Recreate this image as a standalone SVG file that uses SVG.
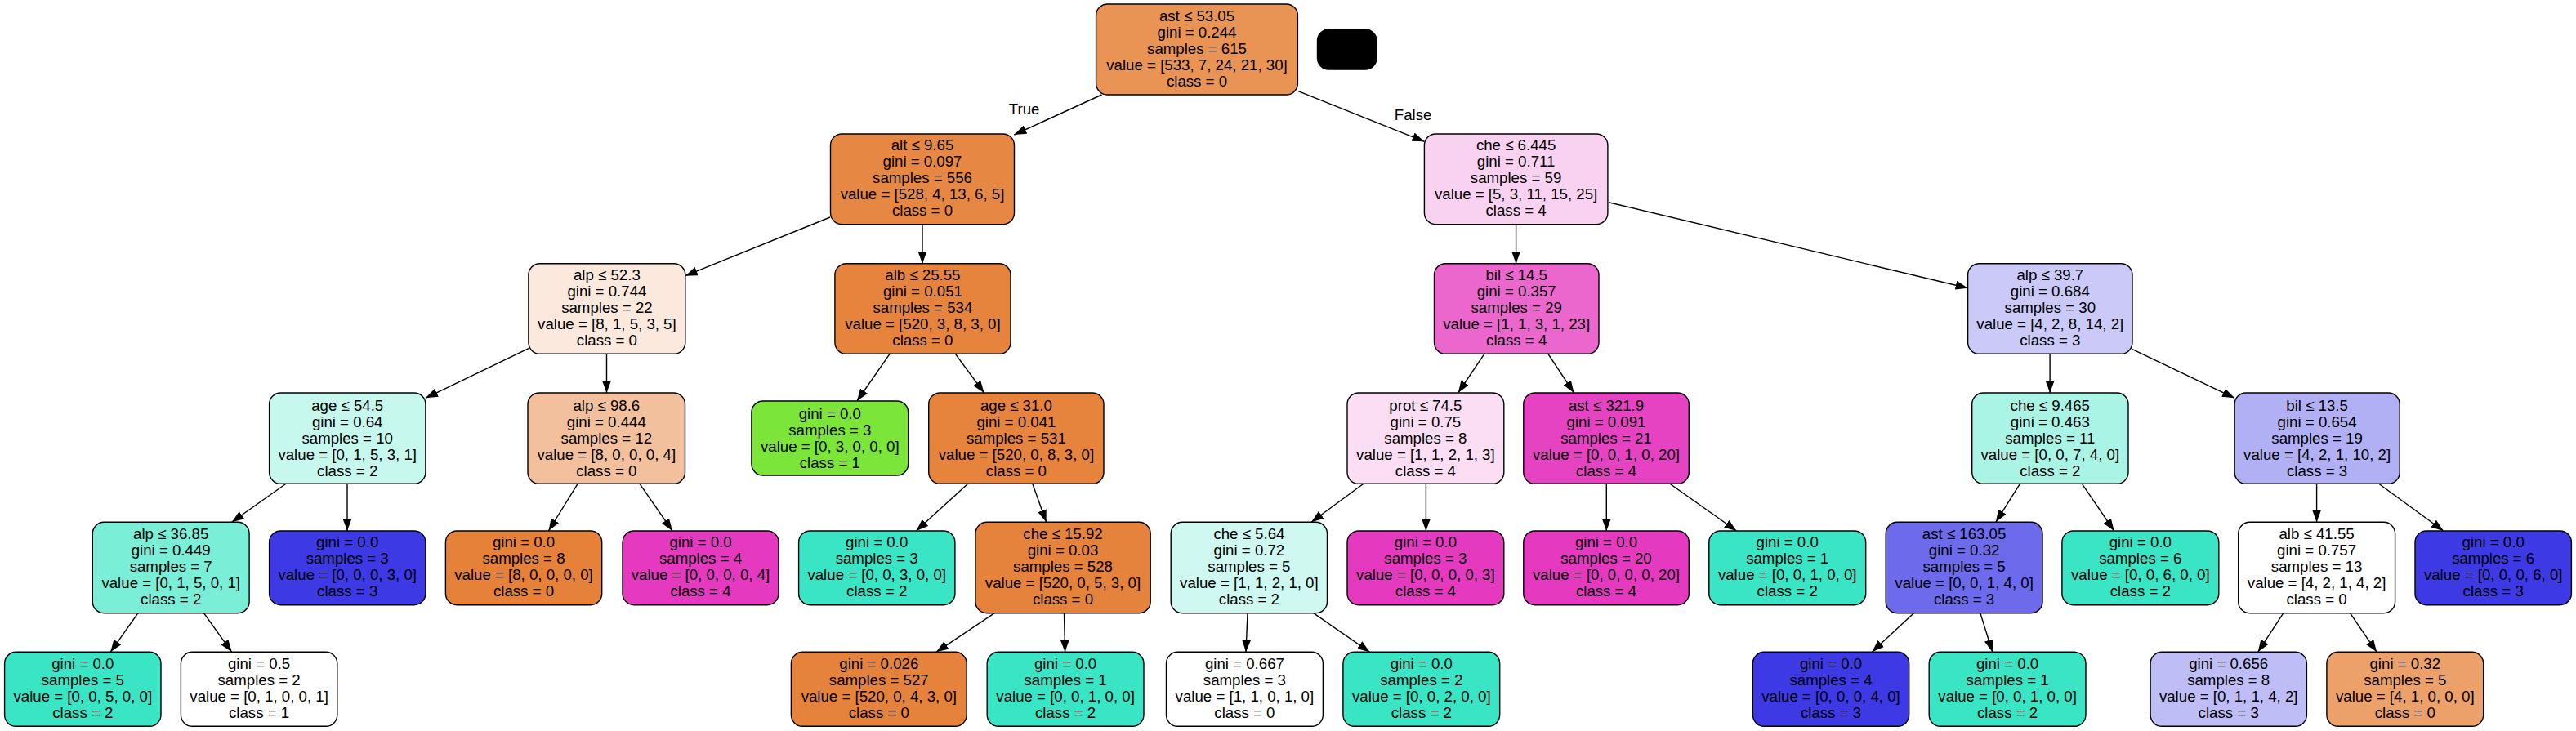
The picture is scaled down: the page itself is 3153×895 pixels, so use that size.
<svg xmlns="http://www.w3.org/2000/svg" width="3153" height="895" viewBox="0 0 3153 895">
<style>
.node rect{stroke:#000;stroke-width:1.4}
text{font-family:"Liberation Sans",Arial,Helvetica,sans-serif;font-size:18.67px;text-anchor:middle;fill:#000}
#edges line{stroke:#000;stroke-width:1.4;marker-end:url(#arr)}
</style>
<defs>
<marker id="arr" markerUnits="userSpaceOnUse" markerWidth="15" markerHeight="11" viewBox="0 0 15 11" refX="15" refY="5.5" orient="auto">
<path d="M0,0 L15,5.5 L0,11 z" fill="#000"/>
</marker>
</defs>
<rect width="3153" height="895" fill="#fff"/>
<g id="edges">
<line x1="1348.5" y1="116" x2="1241.3" y2="165"/>
<line x1="1589" y1="111.7" x2="1743.4" y2="173.3"/>
<line x1="1016" y1="266" x2="838.8" y2="337.7"/>
<line x1="1129" y1="274.7" x2="1129" y2="322.7"/>
<line x1="1855.6" y1="274.7" x2="1855.6" y2="322.7"/>
<line x1="1969" y1="247.7" x2="2408.6" y2="352.7"/>
<line x1="646.9" y1="426.7" x2="520.9" y2="487.3"/>
<line x1="742.5" y1="433.3" x2="742.5" y2="481"/>
<line x1="1089" y1="433.3" x2="1049" y2="491"/>
<line x1="1169.4" y1="433.3" x2="1204.6" y2="481"/>
<line x1="1816.8" y1="433.3" x2="1784.7" y2="481"/>
<line x1="1894.9" y1="433.3" x2="1926.5" y2="481"/>
<line x1="2509.1" y1="433.3" x2="2509.1" y2="481"/>
<line x1="2610" y1="427.7" x2="2735.1" y2="487.3"/>
<line x1="350" y1="592.3" x2="283.7" y2="639.3"/>
<line x1="425" y1="592.3" x2="425" y2="650"/>
<line x1="707.1" y1="592.3" x2="671.4" y2="650"/>
<line x1="783" y1="592.3" x2="823" y2="650"/>
<line x1="1184.7" y1="592.3" x2="1121.4" y2="650"/>
<line x1="1263.8" y1="592.3" x2="1280.6" y2="639.3"/>
<line x1="1668.9" y1="592.3" x2="1605.1" y2="639.3"/>
<line x1="1745.4" y1="592.3" x2="1745.4" y2="650"/>
<line x1="1966.3" y1="592.3" x2="1966.3" y2="650"/>
<line x1="2043.9" y1="592.3" x2="2125.5" y2="650"/>
<line x1="2472.4" y1="592.3" x2="2442.8" y2="639.3"/>
<line x1="2548.4" y1="592.3" x2="2587.7" y2="650"/>
<line x1="2835.6" y1="592.3" x2="2835.6" y2="639.3"/>
<line x1="2911.7" y1="592.3" x2="2990.8" y2="650"/>
<line x1="168.9" y1="750.7" x2="135.2" y2="798.3"/>
<line x1="249.5" y1="750.7" x2="283.7" y2="798.3"/>
<line x1="1217.3" y1="750.7" x2="1145.9" y2="798.3"/>
<line x1="1302.5" y1="750.7" x2="1303.6" y2="798.3"/>
<line x1="1527" y1="750.7" x2="1525" y2="798.3"/>
<line x1="1607.7" y1="750.7" x2="1676.5" y2="798.3"/>
<line x1="2342.4" y1="750.7" x2="2291.3" y2="798.3"/>
<line x1="2423.9" y1="750.7" x2="2438.7" y2="798.3"/>
<line x1="2794.8" y1="750.7" x2="2763.7" y2="798.3"/>
<line x1="2876.5" y1="750.7" x2="2909.1" y2="798.3"/>
<text x="1253.6" y="139.5">True</text>
<text x="1729.6" y="146.5">False</text>
</g>

<g id="n0" class="node"><rect x="1341.6" y="5" width="246.8" height="111" rx="14" fill="#e99355"/>
<text><tspan x="1465" y="26">ast ≤ 53.05</tspan><tspan x="1465" y="46">gini = 0.244</tspan><tspan x="1465" y="66">samples = 615</tspan><tspan x="1465" y="86">value = [533, 7, 24, 21, 30]</tspan><tspan x="1465" y="106">class = 0</tspan></text></g>
<g id="legend" class="node"><rect x="1612.5" y="36" width="72.5" height="49" rx="14" fill="#000"/></g>

<g id="n1" class="node"><rect x="1016.5" y="164" width="225" height="110.7" rx="14" fill="#e68843"/>
<text><tspan x="1129" y="184">alt ≤ 9.65</tspan><tspan x="1129" y="204">gini = 0.097</tspan><tspan x="1129" y="224">samples = 556</tspan><tspan x="1129" y="244">value = [528, 4, 13, 6, 5]</tspan><tspan x="1129" y="264">class = 0</tspan></text></g>
<g id="n2" class="node"><rect x="1743.4" y="164" width="224.5" height="110.7" rx="14" fill="#f9d2f1"/>
<text><tspan x="1855.6" y="184">che ≤ 6.445</tspan><tspan x="1855.6" y="204">gini = 0.711</tspan><tspan x="1855.6" y="224">samples = 59</tspan><tspan x="1855.6" y="244">value = [5, 3, 11, 15, 25]</tspan><tspan x="1855.6" y="264">class = 4</tspan></text></g>

<g id="n3" class="node"><rect x="646.9" y="322.7" width="191.9" height="110.6" rx="14" fill="#fae9dc"/>
<text><tspan x="742.9" y="343">alp ≤ 52.3</tspan><tspan x="742.9" y="363">gini = 0.744</tspan><tspan x="742.9" y="383">samples = 22</tspan><tspan x="742.9" y="403">value = [8, 1, 5, 3, 5]</tspan><tspan x="742.9" y="423">class = 0</tspan></text></g>
<g id="n4" class="node"><rect x="1021.9" y="322.7" width="215.1" height="110.6" rx="14" fill="#e6843e"/>
<text><tspan x="1129.4" y="343">alb ≤ 25.55</tspan><tspan x="1129.4" y="363">gini = 0.051</tspan><tspan x="1129.4" y="383">samples = 534</tspan><tspan x="1129.4" y="403">value = [520, 3, 8, 3, 0]</tspan><tspan x="1129.4" y="423">class = 0</tspan></text></g>
<g id="n5" class="node"><rect x="1755.5" y="322.7" width="201.5" height="110.6" rx="14" fill="#eb67ce"/>
<text><tspan x="1856.2" y="343">bil ≤ 14.5</tspan><tspan x="1856.2" y="363">gini = 0.357</tspan><tspan x="1856.2" y="383">samples = 29</tspan><tspan x="1856.2" y="403">value = [1, 1, 3, 1, 23]</tspan><tspan x="1856.2" y="423">class = 4</tspan></text></g>
<g id="n6" class="node"><rect x="2408.6" y="322.7" width="201.4" height="110.6" rx="14" fill="#cac9f8"/>
<text><tspan x="2509.3" y="343">alp ≤ 39.7</tspan><tspan x="2509.3" y="363">gini = 0.684</tspan><tspan x="2509.3" y="383">samples = 30</tspan><tspan x="2509.3" y="403">value = [4, 2, 8, 14, 2]</tspan><tspan x="2509.3" y="423">class = 3</tspan></text></g>

<g id="n7" class="node"><rect x="329.6" y="481" width="191.3" height="111.3" rx="14" fill="#c6f8ee"/>
<text><tspan x="425.2" y="502.5">age ≤ 54.5</tspan><tspan x="425.2" y="522.5">gini = 0.64</tspan><tspan x="425.2" y="542.5">samples = 10</tspan><tspan x="425.2" y="562.5">value = [0, 1, 5, 3, 1]</tspan><tspan x="425.2" y="582.5">class = 2</tspan></text></g>
<g id="n8" class="node"><rect x="646" y="481" width="192.5" height="111.3" rx="14" fill="#f2c09c"/>
<text><tspan x="742.3" y="502.5">alp ≤ 98.6</tspan><tspan x="742.3" y="522.5">gini = 0.444</tspan><tspan x="742.3" y="542.5">samples = 12</tspan><tspan x="742.3" y="562.5">value = [8, 0, 0, 0, 4]</tspan><tspan x="742.3" y="582.5">class = 0</tspan></text></g>
<g id="n9" class="node"><rect x="919.9" y="491" width="191.8" height="91" rx="14" fill="#7be539"/>
<text><tspan x="1015.8" y="512.5">gini = 0.0</tspan><tspan x="1015.8" y="532.5">samples = 3</tspan><tspan x="1015.8" y="552.5">value = [0, 3, 0, 0, 0]</tspan><tspan x="1015.8" y="572.5">class = 1</tspan></text></g>
<g id="n10" class="node"><rect x="1136.7" y="481" width="214.3" height="111.3" rx="14" fill="#e6843d"/>
<text><tspan x="1243.9" y="502.5">age ≤ 31.0</tspan><tspan x="1243.9" y="522.5">gini = 0.041</tspan><tspan x="1243.9" y="542.5">samples = 531</tspan><tspan x="1243.9" y="562.5">value = [520, 0, 8, 3, 0]</tspan><tspan x="1243.9" y="582.5">class = 0</tspan></text></g>
<g id="n11" class="node"><rect x="1649" y="481" width="191.8" height="111.3" rx="14" fill="#fbdef4"/>
<text><tspan x="1744.9" y="502.5">prot ≤ 74.5</tspan><tspan x="1744.9" y="522.5">gini = 0.75</tspan><tspan x="1744.9" y="542.5">samples = 8</tspan><tspan x="1744.9" y="562.5">value = [1, 1, 2, 1, 3]</tspan><tspan x="1744.9" y="582.5">class = 4</tspan></text></g>
<g id="n12" class="node"><rect x="1864.8" y="481" width="202.5" height="111.3" rx="14" fill="#e643c3"/>
<text><tspan x="1966" y="502.5">ast ≤ 321.9</tspan><tspan x="1966" y="522.5">gini = 0.091</tspan><tspan x="1966" y="542.5">samples = 21</tspan><tspan x="1966" y="562.5">value = [0, 0, 1, 0, 20]</tspan><tspan x="1966" y="582.5">class = 4</tspan></text></g>
<g id="n13" class="node"><rect x="2413.7" y="481" width="191.3" height="111.3" rx="14" fill="#aaf4e6"/>
<text><tspan x="2509.3" y="502.5">che ≤ 9.465</tspan><tspan x="2509.3" y="522.5">gini = 0.463</tspan><tspan x="2509.3" y="542.5">samples = 11</tspan><tspan x="2509.3" y="562.5">value = [0, 0, 7, 4, 0]</tspan><tspan x="2509.3" y="582.5">class = 2</tspan></text></g>
<g id="n14" class="node"><rect x="2735.1" y="481" width="202.1" height="111.3" rx="14" fill="#b1b0f5"/>
<text><tspan x="2836.1" y="502.5">bil ≤ 13.5</tspan><tspan x="2836.1" y="522.5">gini = 0.654</tspan><tspan x="2836.1" y="542.5">samples = 19</tspan><tspan x="2836.1" y="562.5">value = [4, 2, 1, 10, 2]</tspan><tspan x="2836.1" y="582.5">class = 3</tspan></text></g>

<g id="n15" class="node"><rect x="113.3" y="639.3" width="191.8" height="111.4" rx="14" fill="#7beed8"/>
<text><tspan x="209.2" y="660">alp ≤ 36.85</tspan><tspan x="209.2" y="680">gini = 0.449</tspan><tspan x="209.2" y="700">samples = 7</tspan><tspan x="209.2" y="720">value = [0, 1, 5, 0, 1]</tspan><tspan x="209.2" y="740">class = 2</tspan></text></g>
<g id="n16" class="node"><rect x="329.6" y="650" width="191.3" height="90.7" rx="14" fill="#3c39e5"/>
<text><tspan x="425.2" y="670">gini = 0.0</tspan><tspan x="425.2" y="690">samples = 3</tspan><tspan x="425.2" y="710">value = [0, 0, 0, 3, 0]</tspan><tspan x="425.2" y="730">class = 3</tspan></text></g>
<g id="n17" class="node"><rect x="545.4" y="650" width="191.3" height="90.7" rx="14" fill="#e58139"/>
<text><tspan x="641" y="670">gini = 0.0</tspan><tspan x="641" y="690">samples = 8</tspan><tspan x="641" y="710">value = [8, 0, 0, 0, 0]</tspan><tspan x="641" y="730">class = 0</tspan></text></g>
<g id="n18" class="node"><rect x="762" y="650" width="191" height="90.7" rx="14" fill="#e539c0"/>
<text><tspan x="857.5" y="670">gini = 0.0</tspan><tspan x="857.5" y="690">samples = 4</tspan><tspan x="857.5" y="710">value = [0, 0, 0, 0, 4]</tspan><tspan x="857.5" y="730">class = 4</tspan></text></g>
<g id="n19" class="node"><rect x="977.6" y="650" width="191.3" height="90.7" rx="14" fill="#39e5c5"/>
<text><tspan x="1073.2" y="670">gini = 0.0</tspan><tspan x="1073.2" y="690">samples = 3</tspan><tspan x="1073.2" y="710">value = [0, 0, 3, 0, 0]</tspan><tspan x="1073.2" y="730">class = 2</tspan></text></g>
<g id="n20" class="node"><rect x="1193.9" y="639.3" width="214.3" height="111.4" rx="14" fill="#e5833c"/>
<text><tspan x="1301" y="660">che ≤ 15.92</tspan><tspan x="1301" y="680">gini = 0.03</tspan><tspan x="1301" y="700">samples = 528</tspan><tspan x="1301" y="720">value = [520, 0, 5, 3, 0]</tspan><tspan x="1301" y="740">class = 0</tspan></text></g>
<g id="n21" class="node"><rect x="1433.2" y="639.3" width="191.3" height="111.4" rx="14" fill="#cef8f0"/>
<text><tspan x="1528.9" y="660">che ≤ 5.64</tspan><tspan x="1528.9" y="680">gini = 0.72</tspan><tspan x="1528.9" y="700">samples = 5</tspan><tspan x="1528.9" y="720">value = [1, 1, 2, 1, 0]</tspan><tspan x="1528.9" y="740">class = 2</tspan></text></g>
<g id="n22" class="node"><rect x="1649" y="650" width="191.8" height="90.7" rx="14" fill="#e539c0"/>
<text><tspan x="1744.9" y="670">gini = 0.0</tspan><tspan x="1744.9" y="690">samples = 3</tspan><tspan x="1744.9" y="710">value = [0, 0, 0, 0, 3]</tspan><tspan x="1744.9" y="730">class = 4</tspan></text></g>
<g id="n23" class="node"><rect x="1864.8" y="650" width="202.5" height="90.7" rx="14" fill="#e539c0"/>
<text><tspan x="1966" y="670">gini = 0.0</tspan><tspan x="1966" y="690">samples = 20</tspan><tspan x="1966" y="710">value = [0, 0, 0, 0, 20]</tspan><tspan x="1966" y="730">class = 4</tspan></text></g>
<g id="n24" class="node"><rect x="2091.8" y="650" width="191.9" height="90.7" rx="14" fill="#39e5c5"/>
<text><tspan x="2187.7" y="670">gini = 0.0</tspan><tspan x="2187.7" y="690">samples = 1</tspan><tspan x="2187.7" y="710">value = [0, 0, 1, 0, 0]</tspan><tspan x="2187.7" y="730">class = 2</tspan></text></g>
<g id="n25" class="node"><rect x="2308.2" y="639.3" width="191.8" height="111.4" rx="14" fill="#6d6aec"/>
<text><tspan x="2404.1" y="660">ast ≤ 163.05</tspan><tspan x="2404.1" y="680">gini = 0.32</tspan><tspan x="2404.1" y="700">samples = 5</tspan><tspan x="2404.1" y="720">value = [0, 0, 1, 4, 0]</tspan><tspan x="2404.1" y="740">class = 3</tspan></text></g>
<g id="n26" class="node"><rect x="2523.9" y="650" width="191.9" height="90.7" rx="14" fill="#39e5c5"/>
<text><tspan x="2619.8" y="670">gini = 0.0</tspan><tspan x="2619.8" y="690">samples = 6</tspan><tspan x="2619.8" y="710">value = [0, 0, 6, 0, 0]</tspan><tspan x="2619.8" y="730">class = 2</tspan></text></g>
<g id="n27" class="node"><rect x="2739.7" y="639.3" width="191.9" height="111.4" rx="14" fill="#ffffff"/>
<text><tspan x="2835.6" y="660">alb ≤ 41.55</tspan><tspan x="2835.6" y="680">gini = 0.757</tspan><tspan x="2835.6" y="700">samples = 13</tspan><tspan x="2835.6" y="720">value = [4, 2, 1, 4, 2]</tspan><tspan x="2835.6" y="740">class = 0</tspan></text></g>
<g id="n28" class="node"><rect x="2956" y="650" width="191.4" height="90.7" rx="14" fill="#3c39e5"/>
<text><tspan x="3051.7" y="670">gini = 0.0</tspan><tspan x="3051.7" y="690">samples = 6</tspan><tspan x="3051.7" y="710">value = [0, 0, 0, 6, 0]</tspan><tspan x="3051.7" y="730">class = 3</tspan></text></g>

<g id="n29" class="node"><rect x="5.6" y="798.3" width="191.4" height="91" rx="14" fill="#39e5c5"/>
<text><tspan x="101.3" y="819">gini = 0.0</tspan><tspan x="101.3" y="839">samples = 5</tspan><tspan x="101.3" y="859">value = [0, 0, 5, 0, 0]</tspan><tspan x="101.3" y="879">class = 2</tspan></text></g>
<g id="n30" class="node"><rect x="221.4" y="798.3" width="191.4" height="91" rx="14" fill="#ffffff"/>
<text><tspan x="317.1" y="819">gini = 0.5</tspan><tspan x="317.1" y="839">samples = 2</tspan><tspan x="317.1" y="859">value = [0, 1, 0, 0, 1]</tspan><tspan x="317.1" y="879">class = 1</tspan></text></g>
<g id="n31" class="node"><rect x="968.4" y="798.3" width="214.8" height="91" rx="14" fill="#e5833c"/>
<text><tspan x="1075.8" y="819">gini = 0.026</tspan><tspan x="1075.8" y="839">samples = 527</tspan><tspan x="1075.8" y="859">value = [520, 0, 4, 3, 0]</tspan><tspan x="1075.8" y="879">class = 0</tspan></text></g>
<g id="n32" class="node"><rect x="1208.2" y="798.3" width="191.8" height="91" rx="14" fill="#39e5c5"/>
<text><tspan x="1304.1" y="819">gini = 0.0</tspan><tspan x="1304.1" y="839">samples = 1</tspan><tspan x="1304.1" y="859">value = [0, 0, 1, 0, 0]</tspan><tspan x="1304.1" y="879">class = 2</tspan></text></g>
<g id="n33" class="node"><rect x="1427.5" y="798.3" width="191.9" height="91" rx="14" fill="#ffffff"/>
<text><tspan x="1523.4" y="819">gini = 0.667</tspan><tspan x="1523.4" y="839">samples = 3</tspan><tspan x="1523.4" y="859">value = [1, 1, 0, 1, 0]</tspan><tspan x="1523.4" y="879">class = 0</tspan></text></g>
<g id="n34" class="node"><rect x="1643.9" y="798.3" width="191.8" height="91" rx="14" fill="#39e5c5"/>
<text><tspan x="1739.8" y="819">gini = 0.0</tspan><tspan x="1739.8" y="839">samples = 2</tspan><tspan x="1739.8" y="859">value = [0, 0, 2, 0, 0]</tspan><tspan x="1739.8" y="879">class = 2</tspan></text></g>
<g id="n35" class="node"><rect x="2145.4" y="798.3" width="191.3" height="91" rx="14" fill="#3c39e5"/>
<text><tspan x="2241" y="819">gini = 0.0</tspan><tspan x="2241" y="839">samples = 4</tspan><tspan x="2241" y="859">value = [0, 0, 0, 4, 0]</tspan><tspan x="2241" y="879">class = 3</tspan></text></g>
<g id="n36" class="node"><rect x="2361.2" y="798.3" width="191.8" height="91" rx="14" fill="#39e5c5"/>
<text><tspan x="2457.1" y="819">gini = 0.0</tspan><tspan x="2457.1" y="839">samples = 1</tspan><tspan x="2457.1" y="859">value = [0, 0, 1, 0, 0]</tspan><tspan x="2457.1" y="879">class = 2</tspan></text></g>
<g id="n37" class="node"><rect x="2632.1" y="798.3" width="191.3" height="91" rx="14" fill="#bebdf6"/>
<text><tspan x="2727.7" y="819">gini = 0.656</tspan><tspan x="2727.7" y="839">samples = 8</tspan><tspan x="2727.7" y="859">value = [0, 1, 1, 4, 2]</tspan><tspan x="2727.7" y="879">class = 3</tspan></text></g>
<g id="n38" class="node"><rect x="2847.9" y="798.3" width="191.8" height="91" rx="14" fill="#eca06a"/>
<text><tspan x="2943.8" y="819">gini = 0.32</tspan><tspan x="2943.8" y="839">samples = 5</tspan><tspan x="2943.8" y="859">value = [4, 1, 0, 0, 0]</tspan><tspan x="2943.8" y="879">class = 0</tspan></text></g>
</svg>
